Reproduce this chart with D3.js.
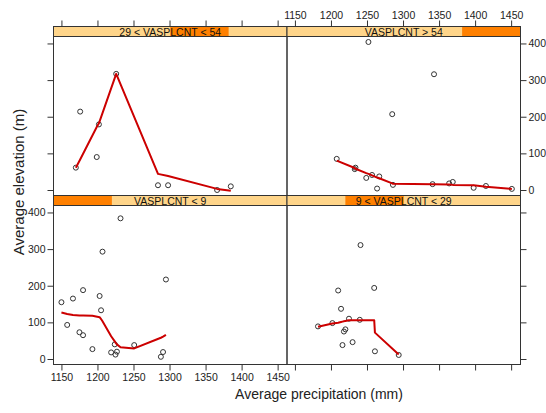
<!DOCTYPE html>
<html>
<head>
<meta charset="utf-8">
<script src="https://cdn.jsdelivr.net/npm/d3@7"></script>
<style>
  html, body { margin: 0; padding: 0; background: #fff; }
  svg { display: block; font-family: "Liberation Sans", Arial, sans-serif; }
</style>
</head>
<body>
<svg id="chart" width="546" height="413"></svg>
<script>
// Conditioning levels (shingle on vascular plant count), in panel order
const levels = ["VASPLCNT < 9", "9 < VASPLCNT < 29", "29 < VASPLCNT < 54", "VASPLCNT > 54"];

// Observations per level: average precipitation (mm) and average elevation (m)
const precipL1 = [1150, 1158, 1166, 1175, 1180, 1180, 1193, 1203, 1205, 1207, 1219, 1224, 1225, 1227, 1232, 1251, 1288, 1291, 1295];
const elevL1   = [155, 93, 165, 73, 188, 65, 27, 172, 133, 293, 18, 40, 12, 20, 384, 38, 6, 19, 217];

const precipL2 = [1182, 1202, 1210, 1214, 1216, 1218, 1220, 1225, 1230, 1240, 1241, 1260, 1261, 1294];
const elevL2   = [89, 98, 187, 137, 38, 75, 81, 110, 46, 107, 311, 194, 21, 11];

const precipL3 = [1170, 1176, 1199, 1202, 1226, 1284, 1298, 1366, 1385];
const elevL3   = [61, 214, 90, 179, 317, 13, 13, 0, 10];

const precipL4 = [1208, 1233, 1234, 1249, 1252, 1257, 1264, 1267, 1285, 1286, 1341, 1343, 1364, 1369, 1398, 1415, 1451];
const elevL4   = [85, 57, 61, 33, 404, 41, 4, 37, 207, 14, 16, 316, 18, 22, 6, 11, 3];

// Smoothed (lowess) fits evaluated at the sorted precipitation values
const smoothXL1 = [1150, 1158, 1166, 1175, 1180, 1193, 1203, 1205, 1207, 1219, 1224, 1225, 1227, 1232, 1251, 1288, 1291, 1295];
const smoothYL1 = [127, 123, 120, 119, 119, 118, 114, 109, 103, 62, 48, 45, 40, 32, 29, 58, 61, 66];

const smoothXL2 = [1182, 1202, 1210, 1214, 1216, 1218, 1220, 1225, 1230, 1240, 1241, 1260, 1261, 1294];
const smoothYL2 = [88, 97, 99, 101, 102, 103, 104, 106, 106, 106, 106, 106, 72, 12];

const smoothXL3 = [1170, 1176, 1199, 1202, 1226, 1284, 1298, 1366, 1385];
const smoothYL3 = [61, 83, 172, 182, 317, 44, 38, 3, -2];

const smoothXL4 = [1208, 1233, 1234, 1249, 1252, 1257, 1264, 1267, 1285, 1286, 1341, 1343, 1364, 1369, 1398, 1415, 1451];
const smoothYL4 = [80, 60, 58, 46, 44, 40, 34, 32, 18, 17, 16, 16, 15, 14, 13, 9, 3];

// Axis ticks
const xTicks = [1150, 1200, 1250, 1300, 1350, 1400, 1450];
const yTicks = [0, 100, 200, 300, 400];

const xTitle = "Average precipitation (mm)";
const yTitle = "Average elevation (m)";

// ---------------------------------------------------------------
const panels = [
  { level: 0, x: precipL1, y: elevL1, sx: smoothXL1, sy: smoothYL1, col: 0, row: 1 },
  { level: 1, x: precipL2, y: elevL2, sx: smoothXL2, sy: smoothYL2, col: 1, row: 1 },
  { level: 2, x: precipL3, y: elevL3, sx: smoothXL3, sy: smoothYL3, col: 0, row: 0 },
  { level: 3, x: precipL4, y: elevL4, sx: smoothXL4, sy: smoothYL4, col: 1, row: 0 }
];

const frame = { left: 53.5, right: 520.5, top: 26.5, bottom: 364.5 };
const stripH = 10;
const colW = (frame.right - frame.left) / 2;
const rowH = (frame.bottom - frame.top) / 2;
const tickLen = 6;
const lineCol = "#333";
const stripBg = "#ffd58a";
const stripShingle = "#ff8000";
const smoothCol = "#cc0000";

const xDomain = [1139, 1463];
const yDomain = [-15, 419];

const svg = d3.select("#chart");

// Position of each level within the strip's shingle band
const shingle = d3.scaleBand().domain(d3.range(levels.length)).range([0, 1]).paddingInner(0);

panels.forEach(p => {
  const x0 = frame.left + p.col * colW;
  const x1 = x0 + colW;
  const sTop = frame.top + p.row * rowH;
  const pTop = sTop + stripH;
  const pBot = sTop + rowH;

  const xs = d3.scaleLinear().domain(xDomain).range([x0, x1]);
  const ys = d3.scaleLinear().domain(yDomain).range([pBot, pTop]);

  const g = svg.append("g");

  // strip
  g.append("rect").attr("x", x0).attr("y", sTop).attr("width", colW).attr("height", stripH)
    .attr("fill", stripBg);
  const sx = d3.scaleLinear().domain([0, 1]).range([x0, x1]);
  g.append("rect")
    .attr("x", sx(shingle(p.level)))
    .attr("y", sTop)
    .attr("width", sx(shingle(p.level) + shingle.bandwidth()) - sx(shingle(p.level)))
    .attr("height", stripH)
    .attr("fill", stripShingle);
  g.append("rect").attr("x", x0).attr("y", sTop).attr("width", colW).attr("height", stripH)
    .attr("fill", "none").attr("stroke", lineCol).attr("stroke-width", 1);
  g.append("text")
    .attr("x", (x0 + x1) / 2).attr("y", sTop + stripH - 0.8)
    .attr("text-anchor", "middle")
    .attr("font-size", "10.5px")
    .attr("fill", "#111")
    .text(levels[p.level]);

  // panel clip
  const clipId = "clip" + p.level;
  svg.append("clipPath").attr("id", clipId)
    .append("rect").attr("x", x0).attr("y", pTop).attr("width", colW).attr("height", pBot - pTop);

  const data = p.x.map((v, i) => [v, p.y[i]]);
  const plot = g.append("g").attr("clip-path", `url(#${clipId})`);
  plot.selectAll("circle").data(data).enter().append("circle")
    .attr("cx", d => xs(d[0])).attr("cy", d => ys(d[1]))
    .attr("r", 2.5)
    .attr("fill", "none").attr("stroke", "#333").attr("stroke-width", 1);

  const fit = p.sx.map((v, i) => [v, p.sy[i]]);
  plot.append("path").datum(fit)
    .attr("d", d3.line().x(d => xs(d[0])).y(d => ys(d[1])))
    .attr("fill", "none").attr("stroke", smoothCol).attr("stroke-width", 2)
    .attr("stroke-linejoin", "round");

  // panel border
  g.append("rect").attr("x", x0).attr("y", pTop).attr("width", colW).attr("height", pBot - pTop)
    .attr("fill", "none").attr("stroke", lineCol).attr("stroke-width", 1);

  // alternating axes: labels on outer side alternately, ticks everywhere outside
  const tickAttrs = sel => sel.call(s => s.select(".domain").remove())
    .call(s => s.selectAll(".tick line").attr("stroke", lineCol))
    .call(s => s.selectAll(".tick text").attr("fill", "#222").attr("font-size", "10.5px")
      .attr("font-family", '"Liberation Sans", Arial, sans-serif'));

  if (p.row === 1) {
    const ax = d3.axisBottom(xs).tickValues(xTicks).tickSize(tickLen).tickPadding(3)
      .tickFormat(p.col === 0 ? d3.format("d") : "");
    g.append("g").attr("transform", `translate(0,${pBot})`).call(ax).call(tickAttrs);
  } else {
    const ax = d3.axisTop(xs).tickValues(xTicks).tickSize(tickLen).tickPadding(2)
      .tickFormat(p.col === 1 ? d3.format("d") : "");
    g.append("g").attr("transform", `translate(0,${sTop})`).call(ax).call(tickAttrs);
  }
  if (p.col === 0) {
    const ay = d3.axisLeft(ys).tickValues(yTicks).tickSize(tickLen).tickPadding(2)
      .tickFormat(p.row === 1 ? d3.format("d") : "");
    g.append("g").attr("transform", `translate(${x0},0)`).call(ay).call(tickAttrs);
  } else {
    const ay = d3.axisRight(ys).tickValues(yTicks).tickSize(tickLen).tickPadding(2)
      .tickFormat(p.row === 0 ? d3.format("d") : "");
    g.append("g").attr("transform", `translate(${x1},0)`).call(ay).call(tickAttrs);
  }
});

// axis titles
svg.append("text")
  .attr("x", 319).attr("y", 399)
  .attr("text-anchor", "middle")
  .attr("font-size", "14px").attr("fill", "#222")
  .text(xTitle);

svg.append("text")
  .attr("transform", "translate(23.5,182) rotate(-90)")
  .attr("text-anchor", "middle")
  .attr("font-size", "15px").attr("fill", "#222")
  .text(yTitle);
</script>
</body>
</html>
